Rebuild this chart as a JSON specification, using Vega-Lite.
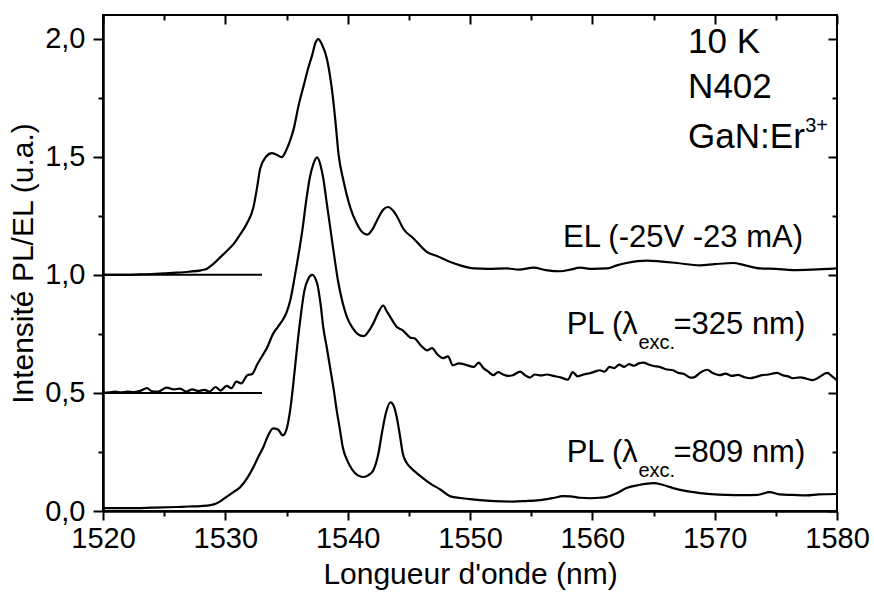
{
  "$schema": "https://vega.github.io/schema/vega-lite/v6.json",
  "width": 734,
  "height": 496,
  "autosize": "none",
  "padding": {"left": 103, "top": 15, "right": 37, "bottom": 83},
  "background": "white",
  "config": {
    "view": {"stroke": "black", "strokeWidth": 2},
    "font": "Liberation Sans",
    "axis": {"grid": false, "domainColor": "black", "domainWidth": 2, "tickColor": "black", "tickWidth": 2, "labelColor": "black", "titleColor": "black", "labelFont": "Liberation Sans", "titleFont": "Liberation Sans", "titleFontWeight": "normal"}
  },
  "datasets": {
    "spectra": [
      {"s": "EL", "wl": 1520, "v": 1.0}, {"s": "EL", "wl": 1522, "v": 1.0}, {"s": "EL", "wl": 1523, "v": 1.002}, {"s": "EL", "wl": 1524, "v": 1.003},
      {"s": "EL", "wl": 1525, "v": 1.006}, {"s": "EL", "wl": 1526, "v": 1.009}, {"s": "EL", "wl": 1527, "v": 1.013}, {"s": "EL", "wl": 1528, "v": 1.019},
      {"s": "EL", "wl": 1528.5, "v": 1.026}, {"s": "EL", "wl": 1529, "v": 1.045}, {"s": "EL", "wl": 1529.6, "v": 1.075}, {"s": "EL", "wl": 1530.1, "v": 1.1},
      {"s": "EL", "wl": 1530.7, "v": 1.132}, {"s": "EL", "wl": 1531.2, "v": 1.17}, {"s": "EL", "wl": 1531.75, "v": 1.216}, {"s": "EL", "wl": 1532.3, "v": 1.287},
      {"s": "EL", "wl": 1532.6, "v": 1.371}, {"s": "EL", "wl": 1532.85, "v": 1.45}, {"s": "EL", "wl": 1533.3, "v": 1.498}, {"s": "EL", "wl": 1533.8, "v": 1.515},
      {"s": "EL", "wl": 1534.2, "v": 1.508}, {"s": "EL", "wl": 1534.6, "v": 1.498}, {"s": "EL", "wl": 1535.0, "v": 1.53}, {"s": "EL", "wl": 1535.3, "v": 1.569},
      {"s": "EL", "wl": 1535.6, "v": 1.62}, {"s": "EL", "wl": 1536.0, "v": 1.72}, {"s": "EL", "wl": 1536.4, "v": 1.8}, {"s": "EL", "wl": 1536.8, "v": 1.88},
      {"s": "EL", "wl": 1537.1, "v": 1.93}, {"s": "EL", "wl": 1537.35, "v": 1.98}, {"s": "EL", "wl": 1537.6, "v": 1.998}, {"s": "EL", "wl": 1537.9, "v": 1.975},
      {"s": "EL", "wl": 1538.3, "v": 1.915}, {"s": "EL", "wl": 1538.7, "v": 1.79}, {"s": "EL", "wl": 1539.0, "v": 1.65}, {"s": "EL", "wl": 1539.25, "v": 1.512},
      {"s": "EL", "wl": 1539.65, "v": 1.4}, {"s": "EL", "wl": 1540.2, "v": 1.287}, {"s": "EL", "wl": 1540.75, "v": 1.216}, {"s": "EL", "wl": 1541.2, "v": 1.18},
      {"s": "EL", "wl": 1541.6, "v": 1.17}, {"s": "EL", "wl": 1542.0, "v": 1.19}, {"s": "EL", "wl": 1542.4, "v": 1.23}, {"s": "EL", "wl": 1542.9, "v": 1.275},
      {"s": "EL", "wl": 1543.3, "v": 1.287}, {"s": "EL", "wl": 1543.7, "v": 1.272}, {"s": "EL", "wl": 1544.0, "v": 1.25}, {"s": "EL", "wl": 1544.55, "v": 1.195},
      {"s": "EL", "wl": 1545.4, "v": 1.153}, {"s": "EL", "wl": 1546.5, "v": 1.096}, {"s": "EL", "wl": 1547.3, "v": 1.08}, {"s": "EL", "wl": 1548.4, "v": 1.054},
      {"s": "EL", "wl": 1549.2, "v": 1.04}, {"s": "EL", "wl": 1550.3, "v": 1.027}, {"s": "EL", "wl": 1551.5, "v": 1.025}, {"s": "EL", "wl": 1553.0, "v": 1.027},
      {"s": "EL", "wl": 1554.0, "v": 1.022}, {"s": "EL", "wl": 1555.2, "v": 1.03}, {"s": "EL", "wl": 1556.2, "v": 1.02}, {"s": "EL", "wl": 1557.4, "v": 1.015},
      {"s": "EL", "wl": 1558.2, "v": 1.022}, {"s": "EL", "wl": 1559.0, "v": 1.03}, {"s": "EL", "wl": 1560.0, "v": 1.025}, {"s": "EL", "wl": 1561.2, "v": 1.027},
      {"s": "EL", "wl": 1562.0, "v": 1.04}, {"s": "EL", "wl": 1562.8, "v": 1.05}, {"s": "EL", "wl": 1564.5, "v": 1.06}, {"s": "EL", "wl": 1565.5, "v": 1.057},
      {"s": "EL", "wl": 1566.9, "v": 1.05}, {"s": "EL", "wl": 1568.8, "v": 1.04}, {"s": "EL", "wl": 1570.0, "v": 1.045}, {"s": "EL", "wl": 1571.5, "v": 1.05},
      {"s": "EL", "wl": 1572.5, "v": 1.04}, {"s": "EL", "wl": 1573.7, "v": 1.027}, {"s": "EL", "wl": 1575.0, "v": 1.025}, {"s": "EL", "wl": 1576.4, "v": 1.02},
      {"s": "EL", "wl": 1578.0, "v": 1.022}, {"s": "EL", "wl": 1580.0, "v": 1.027},

      {"s": "PL325", "wl": 1520, "v": 0.5}, {"s": "PL325", "wl": 1520.5, "v": 0.502}, {"s": "PL325", "wl": 1521, "v": 0.506}, {"s": "PL325", "wl": 1521.5, "v": 0.502},
      {"s": "PL325", "wl": 1522, "v": 0.506}, {"s": "PL325", "wl": 1522.5, "v": 0.503}, {"s": "PL325", "wl": 1523, "v": 0.508}, {"s": "PL325", "wl": 1523.6, "v": 0.52},
      {"s": "PL325", "wl": 1524, "v": 0.507}, {"s": "PL325", "wl": 1524.5, "v": 0.505}, {"s": "PL325", "wl": 1525.2, "v": 0.522}, {"s": "PL325", "wl": 1525.8, "v": 0.515},
      {"s": "PL325", "wl": 1526.3, "v": 0.518}, {"s": "PL325", "wl": 1526.8, "v": 0.505}, {"s": "PL325", "wl": 1527.3, "v": 0.515}, {"s": "PL325", "wl": 1527.8, "v": 0.508},
      {"s": "PL325", "wl": 1528.3, "v": 0.513}, {"s": "PL325", "wl": 1528.7, "v": 0.505}, {"s": "PL325", "wl": 1529.2, "v": 0.525}, {"s": "PL325", "wl": 1529.6, "v": 0.51},
      {"s": "PL325", "wl": 1530.1, "v": 0.53}, {"s": "PL325", "wl": 1530.5, "v": 0.52}, {"s": "PL325", "wl": 1530.9, "v": 0.548}, {"s": "PL325", "wl": 1531.3, "v": 0.54},
      {"s": "PL325", "wl": 1531.8, "v": 0.575}, {"s": "PL325", "wl": 1532.2, "v": 0.58}, {"s": "PL325", "wl": 1532.6, "v": 0.62}, {"s": "PL325", "wl": 1533.0, "v": 0.655},
      {"s": "PL325", "wl": 1533.4, "v": 0.69}, {"s": "PL325", "wl": 1533.9, "v": 0.75}, {"s": "PL325", "wl": 1534.3, "v": 0.78}, {"s": "PL325", "wl": 1534.7, "v": 0.81},
      {"s": "PL325", "wl": 1535.0, "v": 0.84}, {"s": "PL325", "wl": 1535.3, "v": 0.89}, {"s": "PL325", "wl": 1535.6, "v": 0.97}, {"s": "PL325", "wl": 1535.9, "v": 1.06},
      {"s": "PL325", "wl": 1536.3, "v": 1.19}, {"s": "PL325", "wl": 1536.6, "v": 1.31}, {"s": "PL325", "wl": 1536.9, "v": 1.41}, {"s": "PL325", "wl": 1537.2, "v": 1.47},
      {"s": "PL325", "wl": 1537.5, "v": 1.497}, {"s": "PL325", "wl": 1537.8, "v": 1.46}, {"s": "PL325", "wl": 1538.0, "v": 1.41}, {"s": "PL325", "wl": 1538.3, "v": 1.3},
      {"s": "PL325", "wl": 1538.6, "v": 1.19}, {"s": "PL325", "wl": 1538.9, "v": 1.08}, {"s": "PL325", "wl": 1539.2, "v": 0.977}, {"s": "PL325", "wl": 1539.6, "v": 0.88},
      {"s": "PL325", "wl": 1539.95, "v": 0.82}, {"s": "PL325", "wl": 1540.4, "v": 0.775}, {"s": "PL325", "wl": 1540.8, "v": 0.75}, {"s": "PL325", "wl": 1541.3, "v": 0.74},
      {"s": "PL325", "wl": 1541.7, "v": 0.76}, {"s": "PL325", "wl": 1542.1, "v": 0.795}, {"s": "PL325", "wl": 1542.5, "v": 0.84}, {"s": "PL325", "wl": 1542.9, "v": 0.87},
      {"s": "PL325", "wl": 1543.2, "v": 0.845}, {"s": "PL325", "wl": 1543.5, "v": 0.82}, {"s": "PL325", "wl": 1544.0, "v": 0.78}, {"s": "PL325", "wl": 1544.5, "v": 0.765},
      {"s": "PL325", "wl": 1545.1, "v": 0.735}, {"s": "PL325", "wl": 1545.5, "v": 0.73}, {"s": "PL325", "wl": 1546.0, "v": 0.7}, {"s": "PL325", "wl": 1546.5, "v": 0.68},
      {"s": "PL325", "wl": 1546.9, "v": 0.69}, {"s": "PL325", "wl": 1547.3, "v": 0.665}, {"s": "PL325", "wl": 1547.8, "v": 0.647}, {"s": "PL325", "wl": 1548.2, "v": 0.655},
      {"s": "PL325", "wl": 1548.6, "v": 0.617}, {"s": "PL325", "wl": 1549.1, "v": 0.625}, {"s": "PL325", "wl": 1549.6, "v": 0.62}, {"s": "PL325", "wl": 1550.3, "v": 0.61},
      {"s": "PL325", "wl": 1550.7, "v": 0.628}, {"s": "PL325", "wl": 1551.1, "v": 0.605}, {"s": "PL325", "wl": 1551.5, "v": 0.59}, {"s": "PL325", "wl": 1551.9, "v": 0.575},
      {"s": "PL325", "wl": 1552.3, "v": 0.588}, {"s": "PL325", "wl": 1552.7, "v": 0.578}, {"s": "PL325", "wl": 1553.1, "v": 0.572}, {"s": "PL325", "wl": 1553.5, "v": 0.575},
      {"s": "PL325", "wl": 1554.1, "v": 0.59}, {"s": "PL325", "wl": 1554.5, "v": 0.575}, {"s": "PL325", "wl": 1554.9, "v": 0.565}, {"s": "PL325", "wl": 1555.3, "v": 0.578},
      {"s": "PL325", "wl": 1555.8, "v": 0.574}, {"s": "PL325", "wl": 1556.3, "v": 0.578}, {"s": "PL325", "wl": 1556.8, "v": 0.572}, {"s": "PL325", "wl": 1557.4, "v": 0.566},
      {"s": "PL325", "wl": 1558.0, "v": 0.556}, {"s": "PL325", "wl": 1558.4, "v": 0.588}, {"s": "PL325", "wl": 1558.8, "v": 0.57}, {"s": "PL325", "wl": 1559.3, "v": 0.578},
      {"s": "PL325", "wl": 1559.8, "v": 0.583}, {"s": "PL325", "wl": 1560.2, "v": 0.59}, {"s": "PL325", "wl": 1560.6, "v": 0.596}, {"s": "PL325", "wl": 1561.0, "v": 0.59},
      {"s": "PL325", "wl": 1561.4, "v": 0.61}, {"s": "PL325", "wl": 1561.8, "v": 0.605}, {"s": "PL325", "wl": 1562.2, "v": 0.62}, {"s": "PL325", "wl": 1562.6, "v": 0.61},
      {"s": "PL325", "wl": 1563.0, "v": 0.622}, {"s": "PL325", "wl": 1563.4, "v": 0.615}, {"s": "PL325", "wl": 1563.8, "v": 0.625}, {"s": "PL325", "wl": 1564.2, "v": 0.628},
      {"s": "PL325", "wl": 1564.6, "v": 0.62}, {"s": "PL325", "wl": 1565.0, "v": 0.614}, {"s": "PL325", "wl": 1565.5, "v": 0.61}, {"s": "PL325", "wl": 1566.0, "v": 0.6},
      {"s": "PL325", "wl": 1566.6, "v": 0.596}, {"s": "PL325", "wl": 1567.0, "v": 0.585}, {"s": "PL325", "wl": 1567.5, "v": 0.58}, {"s": "PL325", "wl": 1568.0, "v": 0.565},
      {"s": "PL325", "wl": 1568.3, "v": 0.566}, {"s": "PL325", "wl": 1568.8, "v": 0.585}, {"s": "PL325", "wl": 1569.4, "v": 0.598}, {"s": "PL325", "wl": 1569.8, "v": 0.585},
      {"s": "PL325", "wl": 1570.4, "v": 0.575}, {"s": "PL325", "wl": 1570.9, "v": 0.582}, {"s": "PL325", "wl": 1571.4, "v": 0.572}, {"s": "PL325", "wl": 1571.9, "v": 0.576},
      {"s": "PL325", "wl": 1572.4, "v": 0.567}, {"s": "PL325", "wl": 1572.9, "v": 0.562}, {"s": "PL325", "wl": 1573.4, "v": 0.568}, {"s": "PL325", "wl": 1573.9, "v": 0.575},
      {"s": "PL325", "wl": 1574.4, "v": 0.578}, {"s": "PL325", "wl": 1575.1, "v": 0.585}, {"s": "PL325", "wl": 1575.6, "v": 0.574}, {"s": "PL325", "wl": 1576.0, "v": 0.57},
      {"s": "PL325", "wl": 1576.4, "v": 0.562}, {"s": "PL325", "wl": 1577.0, "v": 0.566}, {"s": "PL325", "wl": 1577.5, "v": 0.56}, {"s": "PL325", "wl": 1578.0, "v": 0.554},
      {"s": "PL325", "wl": 1578.5, "v": 0.565}, {"s": "PL325", "wl": 1579.2, "v": 0.585}, {"s": "PL325", "wl": 1579.6, "v": 0.57}, {"s": "PL325", "wl": 1580.0, "v": 0.553},

      {"s": "PL809", "wl": 1520, "v": 0.012}, {"s": "PL809", "wl": 1522, "v": 0.012}, {"s": "PL809", "wl": 1524, "v": 0.014}, {"s": "PL809", "wl": 1526, "v": 0.017},
      {"s": "PL809", "wl": 1527, "v": 0.019}, {"s": "PL809", "wl": 1528, "v": 0.021}, {"s": "PL809", "wl": 1528.8, "v": 0.025}, {"s": "PL809", "wl": 1529.3, "v": 0.033},
      {"s": "PL809", "wl": 1529.7, "v": 0.045}, {"s": "PL809", "wl": 1530.1, "v": 0.06}, {"s": "PL809", "wl": 1530.6, "v": 0.078}, {"s": "PL809", "wl": 1531.2, "v": 0.1},
      {"s": "PL809", "wl": 1531.8, "v": 0.14}, {"s": "PL809", "wl": 1532.3, "v": 0.186}, {"s": "PL809", "wl": 1532.7, "v": 0.23}, {"s": "PL809", "wl": 1533.1, "v": 0.27},
      {"s": "PL809", "wl": 1533.5, "v": 0.32}, {"s": "PL809", "wl": 1533.9, "v": 0.35}, {"s": "PL809", "wl": 1534.3, "v": 0.345}, {"s": "PL809", "wl": 1534.7, "v": 0.32},
      {"s": "PL809", "wl": 1535.0, "v": 0.345}, {"s": "PL809", "wl": 1535.3, "v": 0.427}, {"s": "PL809", "wl": 1535.6, "v": 0.56}, {"s": "PL809", "wl": 1535.9, "v": 0.71},
      {"s": "PL809", "wl": 1536.2, "v": 0.84}, {"s": "PL809", "wl": 1536.45, "v": 0.93}, {"s": "PL809", "wl": 1536.8, "v": 0.985}, {"s": "PL809", "wl": 1537.1, "v": 1.0},
      {"s": "PL809", "wl": 1537.5, "v": 0.964}, {"s": "PL809", "wl": 1537.8, "v": 0.87}, {"s": "PL809", "wl": 1538.0, "v": 0.78}, {"s": "PL809", "wl": 1538.3, "v": 0.69},
      {"s": "PL809", "wl": 1538.6, "v": 0.596}, {"s": "PL809", "wl": 1538.9, "v": 0.5}, {"s": "PL809", "wl": 1539.1, "v": 0.427}, {"s": "PL809", "wl": 1539.35, "v": 0.35},
      {"s": "PL809", "wl": 1539.6, "v": 0.27}, {"s": "PL809", "wl": 1540.0, "v": 0.21}, {"s": "PL809", "wl": 1540.4, "v": 0.173}, {"s": "PL809", "wl": 1540.8, "v": 0.152},
      {"s": "PL809", "wl": 1541.3, "v": 0.144}, {"s": "PL809", "wl": 1541.7, "v": 0.152}, {"s": "PL809", "wl": 1542.1, "v": 0.173}, {"s": "PL809", "wl": 1542.5, "v": 0.24},
      {"s": "PL809", "wl": 1542.8, "v": 0.33}, {"s": "PL809", "wl": 1543.1, "v": 0.41}, {"s": "PL809", "wl": 1543.5, "v": 0.46}, {"s": "PL809", "wl": 1543.8, "v": 0.44},
      {"s": "PL809", "wl": 1544.0, "v": 0.4}, {"s": "PL809", "wl": 1544.3, "v": 0.31}, {"s": "PL809", "wl": 1544.5, "v": 0.245}, {"s": "PL809", "wl": 1544.8, "v": 0.205},
      {"s": "PL809", "wl": 1545.1, "v": 0.186}, {"s": "PL809", "wl": 1545.9, "v": 0.15}, {"s": "PL809", "wl": 1546.7, "v": 0.118}, {"s": "PL809", "wl": 1547.6, "v": 0.09},
      {"s": "PL809", "wl": 1548.4, "v": 0.062}, {"s": "PL809", "wl": 1549.2, "v": 0.055}, {"s": "PL809", "wl": 1550.0, "v": 0.05}, {"s": "PL809", "wl": 1550.8, "v": 0.046},
      {"s": "PL809", "wl": 1552.0, "v": 0.042}, {"s": "PL809", "wl": 1553.5, "v": 0.04}, {"s": "PL809", "wl": 1554.5, "v": 0.042}, {"s": "PL809", "wl": 1555.7, "v": 0.046},
      {"s": "PL809", "wl": 1556.8, "v": 0.055}, {"s": "PL809", "wl": 1557.6, "v": 0.063}, {"s": "PL809", "wl": 1558.2, "v": 0.062}, {"s": "PL809", "wl": 1559.0, "v": 0.056},
      {"s": "PL809", "wl": 1559.8, "v": 0.054}, {"s": "PL809", "wl": 1560.6, "v": 0.056}, {"s": "PL809", "wl": 1561.2, "v": 0.06}, {"s": "PL809", "wl": 1562.0, "v": 0.075},
      {"s": "PL809", "wl": 1562.8, "v": 0.097}, {"s": "PL809", "wl": 1563.8, "v": 0.11}, {"s": "PL809", "wl": 1565.0, "v": 0.118}, {"s": "PL809", "wl": 1565.8, "v": 0.11},
      {"s": "PL809", "wl": 1566.6, "v": 0.097}, {"s": "PL809", "wl": 1567.6, "v": 0.085}, {"s": "PL809", "wl": 1568.8, "v": 0.076}, {"s": "PL809", "wl": 1570.0, "v": 0.07},
      {"s": "PL809", "wl": 1571.0, "v": 0.068}, {"s": "PL809", "wl": 1572.3, "v": 0.067}, {"s": "PL809", "wl": 1573.5, "v": 0.068}, {"s": "PL809", "wl": 1574.5, "v": 0.08},
      {"s": "PL809", "wl": 1575.3, "v": 0.07}, {"s": "PL809", "wl": 1576.4, "v": 0.068}, {"s": "PL809", "wl": 1577.5, "v": 0.066}, {"s": "PL809", "wl": 1578.5, "v": 0.07},
      {"s": "PL809", "wl": 1580.0, "v": 0.072}
    ],
    "baselines": [
      {"wl": 1520, "wl2": 1533, "v": 1.0},
      {"wl": 1520, "wl2": 1533, "v": 0.5}
    ],
    "annot": [
      {"wl": 1567.83, "v": 1.937, "t": "10 K"},
      {"wl": 1567.83, "v": 1.75, "t": "N402"},
      {"wl": 1567.83, "v": 1.539, "t": "GaN:Er"}
    ],
    "labels": [
      {"wl": 1557.6, "v": 1.116, "t": "EL (-25V -23 mA)"},
      {"wl": 1557.9, "v": 0.751, "t": "PL (λ"},
      {"wl": 1566.63, "v": 0.751, "t": "=325 nm)"},
      {"wl": 1557.9, "v": 0.209, "t": "PL (λ"},
      {"wl": 1566.63, "v": 0.209, "t": "=809 nm)"}
    ],
    "small": [
      {"wl": 1577.4, "v": 1.603, "t": "3+"},
      {"wl": 1563.77, "v": 0.685, "t": "exc."},
      {"wl": 1563.77, "v": 0.143, "t": "exc."}
    ]
  },
  "layer": [
    {
      "data": {"name": "spectra"},
      "mark": {"type": "line", "color": "black", "strokeWidth": 2.2, "interpolate": "monotone", "clip": true},
      "encoding": {
        "x": {"field": "wl", "type": "quantitative", "scale": {"domain": [1520, 1580], "nice": false, "zero": false},
          "axis": {"orient": "bottom", "values": [1520, 1530, 1540, 1550, 1560, 1570, 1580], "format": "d", "tickSize": 9, "labelFontSize": 29, "labelPadding": 4, "labelFlush": false, "title": "Longueur d'onde (nm)", "titleFontSize": 30, "titlePadding": 6}},
        "y": {"field": "v", "type": "quantitative", "scale": {"domain": [0, 2.1], "nice": false, "zero": false},
          "axis": {"orient": "left", "values": [0, 0.5, 1, 1.5, 2], "format": ".1f", "labelExpr": "replace(datum.label, '.', ',')", "tickSize": 10, "labelFontSize": 29, "labelPadding": 8, "labelFlush": false, "title": "Intensité PL/EL (u.a.)", "titleFontSize": 30, "titlePadding": 6}},
        "detail": {"field": "s", "type": "nominal"}
      }
    },
    {
      "data": {"name": "baselines"},
      "mark": {"type": "rule", "color": "black", "strokeWidth": 2},
      "encoding": {
        "x": {"field": "wl", "type": "quantitative", "axis": {"orient": "bottom", "values": [1525, 1535, 1545, 1555, 1565, 1575], "tickSize": 5, "labels": false, "title": null}},
        "x2": {"field": "wl2"},
        "y": {"field": "v", "type": "quantitative", "axis": {"orient": "left", "values": [0.25, 0.75, 1.25, 1.75], "tickSize": 5, "labels": false, "title": null}}
      }
    },
    {
      "data": {"name": "annot"},
      "mark": {"type": "text", "align": "left", "baseline": "alphabetic", "fontSize": 35, "font": "Liberation Sans", "color": "black"},
      "encoding": {
        "x": {"field": "wl", "type": "quantitative", "axis": {"orient": "top", "values": [1520, 1530, 1540, 1550, 1560, 1570, 1580], "offset": -9, "tickSize": 9, "domainOpacity": 0, "labels": false, "title": null}},
        "y": {"field": "v", "type": "quantitative", "axis": {"orient": "right", "values": [0, 0.5, 1, 1.5, 2], "offset": -9, "tickSize": 9, "domainOpacity": 0, "labels": false, "title": null}},
        "text": {"field": "t"}
      }
    },
    {
      "data": {"name": "small"},
      "mark": {"type": "text", "align": "left", "baseline": "alphabetic", "fontSize": 20, "font": "Liberation Sans", "color": "black"},
      "encoding": {
        "x": {"field": "wl", "type": "quantitative", "axis": {"orient": "top", "values": [1525, 1535, 1545, 1555, 1565, 1575], "offset": -5, "tickSize": 5, "domainOpacity": 0, "labels": false, "title": null}},
        "y": {"field": "v", "type": "quantitative", "axis": {"orient": "right", "values": [0.25, 0.75, 1.25, 1.75], "offset": -5, "tickSize": 5, "domainOpacity": 0, "labels": false, "title": null}},
        "text": {"field": "t"}
      }
    },
    {
      "data": {"name": "labels"},
      "mark": {"type": "text", "align": "left", "baseline": "alphabetic", "fontSize": 31, "font": "Liberation Sans", "color": "black"},
      "encoding": {
        "x": {"field": "wl", "type": "quantitative", "axis": null},
        "y": {"field": "v", "type": "quantitative", "axis": null},
        "text": {"field": "t"}
      }
    }
  ],
  "resolve": {"axis": {"x": "independent", "y": "independent"}}
}
